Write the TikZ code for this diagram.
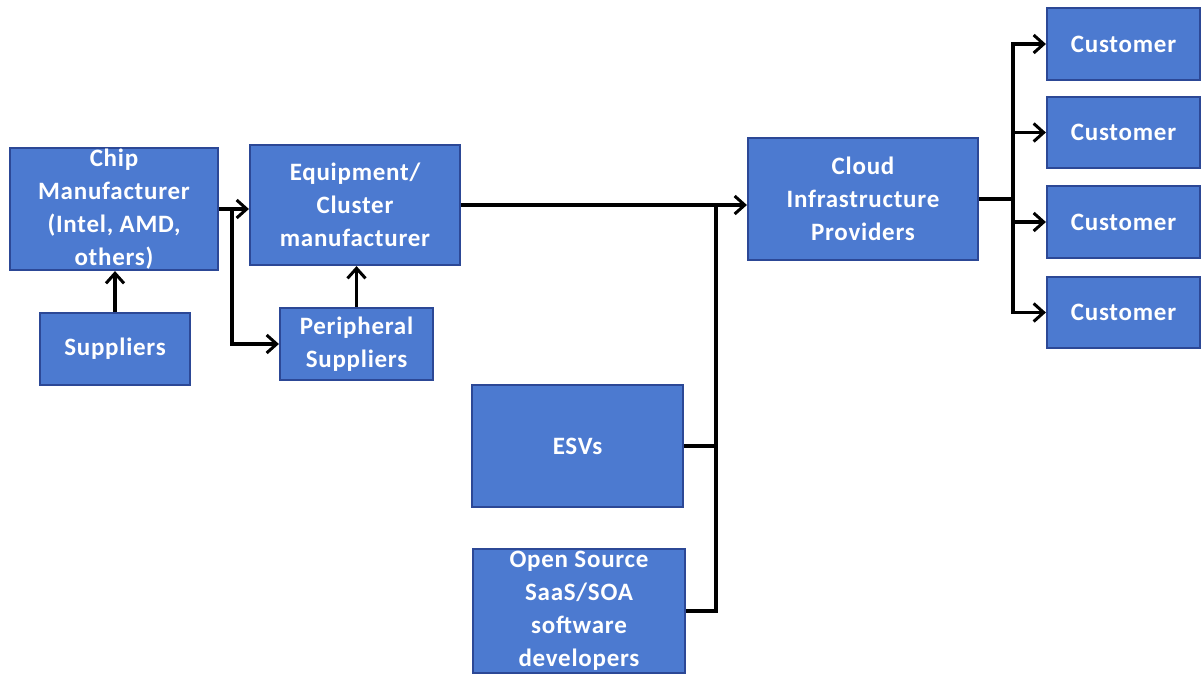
\documentclass[tikz,border=0pt]{standalone}
\usepackage{fontspec}
\setmainfont{Carlito}[LetterSpace=3]
\usetikzlibrary{arrows.meta}
\definecolor{boxfill}{RGB}{76,122,208}
\definecolor{boxedge}{RGB}{44,72,150}
\tikzset{
  box/.style={draw=boxedge, fill=boxfill, line width=2.2pt, inner sep=0pt, align=center,
    text=white, font=\fontsize{25}{33}\selectfont\bfseries},
  conn/.style={draw=black, line width=3.6pt},
  arr/.style={conn, -{Straight Barb[length=10pt,width=18pt,line width=3pt]}}
}
\begin{document}
\begin{tikzpicture}[x=1pt,y=-1pt]
\useasboundingbox (0,0) rectangle (1204,673);
\node[box, minimum width=208pt, minimum height=122pt] (chip) at (114,209) {Chip\\Manufacturer\\(Intel, AMD,\\others)};
\node[box, minimum width=150pt, minimum height=72pt] (sup) at (115,349) {Suppliers};
\node[box, minimum width=210pt, minimum height=120pt] (equip) at (355,205) {Equipment/\\Cluster\\manufacturer};
\node[box, minimum width=153pt, minimum height=72pt] (periph) at (356.5,344) {Peripheral\\Suppliers};
\node[box, minimum width=230pt, minimum height=122pt] (cloud) at (863,199) {Cloud\\Infrastructure\\Providers};
\node[box, minimum width=211pt, minimum height=122pt] (esv) at (577.5,446) {ESVs};
\node[box, minimum width=212pt, minimum height=124pt] (oss) at (579,611) {Open Source\\SaaS/SOA\\software\\developers};
\node[box, minimum width=153pt, minimum height=72pt] (c1) at (1123.5,44) {Customer};
\node[box, minimum width=153pt, minimum height=71pt] (c2) at (1123.5,132.5) {Customer};
\node[box, minimum width=153pt, minimum height=72pt] (c3) at (1123.5,222) {Customer};
\node[box, minimum width=153pt, minimum height=71pt] (c4) at (1123.5,312.5) {Customer};
% connectors
\draw[arr] (sup.north) -- (sup.north |- chip.south);
\draw[arr] (periph.north) -- (periph.north |- equip.south);
\draw[arr] (chip.east) -- (equip.west |- chip.east);
\coordinate (j1) at (232,209);
\draw[arr] (j1) |- (periph.west);
\draw[arr] (equip.east) -- (cloud.west |- equip.east);
\coordinate (j2) at (716,205);
\draw[conn] (esv.east) -| (j2);
\draw[conn] (oss.east) -| (j2);
\coordinate (j3) at (1013,199);
\draw[conn] (cloud.east) -- (j3);
\draw[arr] (j3) |- (c1.west);
\draw[arr] (j3) |- (c2.west);
\draw[arr] (j3) |- (c3.west);
\draw[arr] (j3) |- (c4.west);
\end{tikzpicture}
\end{document}
